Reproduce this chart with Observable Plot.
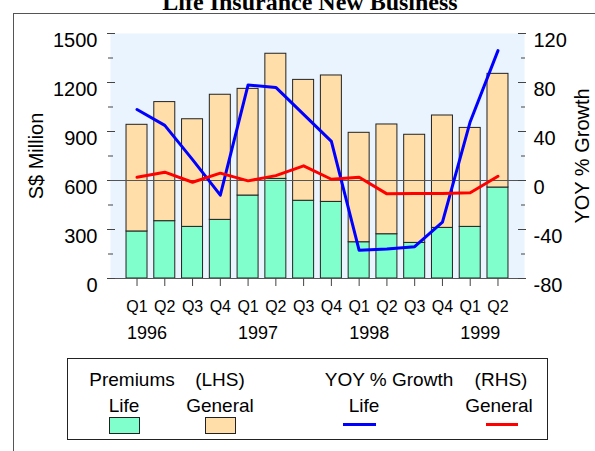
<!DOCTYPE html>
<html><head><meta charset="utf-8">
<script src="https://cdn.jsdelivr.net/npm/d3@7"></script>
<script src="https://cdn.jsdelivr.net/npm/@observablehq/plot@0.6"></script>
<style>
body{margin:0;background:#fff;font-family:Arial,"Liberation Sans",sans-serif;}
#wrap{position:relative;width:595px;height:451px;overflow:hidden;background:#fff;}
#border{position:absolute;left:13px;top:13px;width:700px;height:700px;border-left:1.5px solid #555;border-top:1.5px solid #555;}
#title{position:absolute;top:-10px;left:310px;transform:translateX(-50%);font:bold 24px "Liberation Serif","Times New Roman",serif;line-height:24px;white-space:nowrap;}
.chart{position:absolute;left:0;top:0;}
#legend{position:absolute;left:67px;top:358px;width:479px;height:80px;border:1px solid #222;}
.lt{position:absolute;font-size:19px;line-height:19px;transform:translateX(-50%);white-space:nowrap;}
.sw{position:absolute;width:29px;height:15px;border:1px solid #222;}
.ln{position:absolute;height:3px;}
</style></head>
<body><div id="wrap">
<div id="border"></div>
<div id="title">Life Insurance New Business</div>
<div id="chartA" class="chart"></div>
<div id="chartB" class="chart"></div>
<div id="legend"></div>
<div class="lt" style="left:132px;top:370px">Premiums</div>
<div class="lt" style="left:220px;top:370px">(LHS)</div>
<div class="lt" style="left:389px;top:370px">YOY % Growth</div>
<div class="lt" style="left:501px;top:370px">(RHS)</div>
<div class="lt" style="left:124px;top:396px">Life</div>
<div class="lt" style="left:220px;top:396px">General</div>
<div class="lt" style="left:364px;top:396px">Life</div>
<div class="lt" style="left:499px;top:396px">General</div>
<div class="sw" style="left:109px;top:417px;background:#80ffcc"></div>
<div class="sw" style="left:205px;top:417px;background:#ffdeaa"></div>
<div class="ln" style="left:343px;top:423px;width:33px;background:#0000ff"></div>
<div class="ln" style="left:486px;top:423px;width:32px;background:#ff0000"></div>
</div>
<script>
const quarters = ["Q1","Q2","Q3","Q4","Q1","Q2","Q3","Q4","Q1","Q2","Q3","Q4","Q1","Q2"];
const years = [1996,1996,1996,1996,1997,1997,1997,1997,1998,1998,1998,1998,1999,1999];
const lifePremiums = [288, 351, 316, 359, 508, 610, 476, 469, 222, 271, 218, 310, 316, 557];
const generalPremiums = [653, 729, 659, 766, 653, 766, 740, 774, 670, 672, 662, 688, 606, 696];
const lifeGrowth = [58, 45, 17, -12, 78, 76, 54, 32, -57, -56, -54, -34, 48, 106];
const generalGrowth = [2.7, 6.8, -1.4, 6, -0.3, 4, 12, 1, 2.7, -10.9, -10.7, -10.6, -10, 3.5];
const lhsTicks = [0, 300, 600, 900, 1200, 1500];
const lhsMinor = [150, 450, 750, 1050, 1350];
const rhsTicks = [-80, -40, 0, 40, 80, 120];
const rhsMinor = [-60, -20, 20, 60, 100];

const ids = quarters.map((q, i) => q + " " + years[i]);
const barData = ids.flatMap((id, i) => [
  {id, series: "Life", v: lifePremiums[i]},
  {id, series: "General", v: generalPremiums[i]}
]);
const lineData = ids.map((id, i) => ({id, life: lifeGrowth[i], general: generalGrowth[i]}));

const common = {
  width: 595, height: 345,
  marginLeft: 110, marginRight: 71, marginTop: 33, marginBottom: 67,
  style: {background: "transparent", fontFamily: "Arial, 'Liberation Sans', sans-serif", fontSize: "20px", color: "#000", overflow: "visible"}
};
const xScale = {type: "band", domain: ids, paddingInner: 0.244, paddingOuter: 0.577, round: false};
const plain = d => String(d);

const A = Plot.plot({
  ...common,
  x: {...xScale},
  y: {domain: [0, 1500]},
  color: {domain: ["Life", "General"], range: ["#80ffcc", "#ffdeaa"]},
  marks: [
    Plot.frame({fill: "#eaf4fe", stroke: null}),
    Plot.barY(barData, {x: "id", y: "v", fill: "series", stroke: "#222", strokeWidth: 1}),
    Plot.ruleY([0], {stroke: "#555", strokeWidth: 1.2}),
    Plot.axisY({ticks: lhsTicks, tickSize: 8, dx: 5, tickFormat: () => "", label: null, stroke: "#444"}),
    Plot.axisY({ticks: lhsMinor, tickSize: 5, dx: 3, tickFormat: () => "", label: null, stroke: "#444"}),
    Plot.axisY({ticks: lhsTicks, tickSize: 0, tickPadding: 13, dy: 7, tickFormat: plain, label: "S$ Million", labelArrow: "none", labelAnchor: "center", labelOffset: 82, fontSize: 20}),
    Plot.axisX({tickSize: 8, tickPadding: 14, tickFormat: d => d.split(" ")[0], label: null, fontSize: 16, stroke: "#444"}),
    Plot.axisX(ids.filter(d => d.startsWith("Q1")), {tickSize: 0, tickPadding: 48, dx: 10, tickFormat: d => d.split(" ")[1], label: null, fontSize: 18})
  ]
});
document.getElementById("chartA").append(A);

const B = Plot.plot({
  ...common,
  x: {...xScale, axis: null},
  y: {domain: [-80, 120]},
  marks: [
    Plot.ruleY([0], {stroke: "#555", strokeWidth: 1.2}),
    Plot.lineY(lineData, {x: "id", y: "life", stroke: "#0000ff", strokeWidth: 3}),
    Plot.lineY(lineData, {x: "id", y: "general", stroke: "#ff0000", strokeWidth: 3}),
    Plot.axisY({anchor: "right", ticks: rhsTicks, tickSize: 8, dx: -7, tickFormat: () => "", label: null, stroke: "#444"}),
    Plot.axisY({anchor: "right", ticks: rhsMinor, tickSize: 4, dx: -4, tickFormat: () => "", label: null, stroke: "#444"}),
    Plot.axisY({anchor: "right", ticks: rhsTicks, tickSize: 0, tickPadding: 9, dy: 7, tickFormat: plain, label: "YOY % Growth", labelArrow: "none", labelAnchor: "center", labelOffset: 64, fontSize: 20})
  ]
});
document.getElementById("chartB").append(B);
</script>
</body></html>
